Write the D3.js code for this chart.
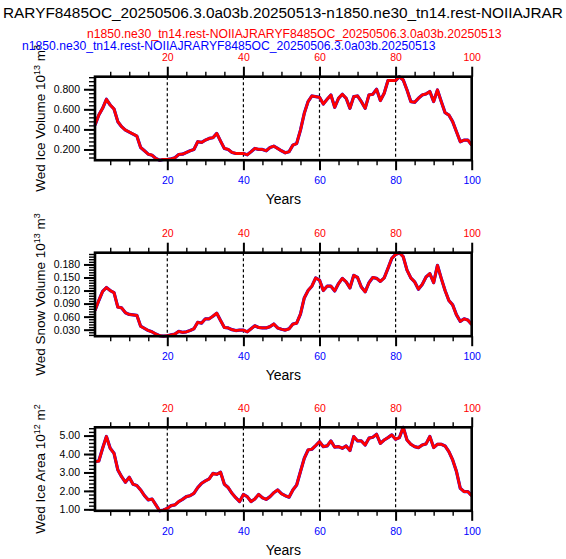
<!DOCTYPE html>
<html>
<head>
  <meta charset="utf-8">
  <title>Weddell ice timeseries</title>
  <script src="https://d3js.org/d3.v7.min.js"></script>
  <style>
    body { margin: 0; background: #fff; }
    svg { font-family: "Liberation Sans", Arial, Helvetica, sans-serif; }
    .axis path { display: none; }
    .axis line { stroke: #000; }
    .major line { stroke-width: 2; }
    .minor line { stroke-width: 1.4; }
    .axis text { font-size: 10.5px; }
    .grid { stroke: #000; stroke-width: 1.2; stroke-dasharray: 3,2.5; }
    .frame { fill: none; stroke: #000; stroke-width: 2.6; }
  </style>
</head>
<body>
<script>
// case names
var mainTitle = 'RARYF8485OC_20250506.3.0a03b.20250513-n1850.ne30_tn14.rest-NOIIAJRAR';
var redCase = 'n1850.ne30_tn14.rest-NOIIAJRARYF8485OC_20250506.3.0a03b.20250513';
var blueCase = 'n1850.ne30_tn14.rest-NOIIAJRARYF8485OC_20250506.3.0a03b.20250513';

var years = d3.range(1, 101);
var xTicks = [20, 40, 60, 80, 100];
var xMinor = [5, 10, 15, 25, 30, 35, 45, 50, 55, 65, 70, 75, 85, 90, 95];

// Wed ice volume (10^13 m^3)
var iceVolume = [
  0.443, 0.543, 0.610, 0.700, 0.643, 0.603, 0.477, 0.427, 0.393, 0.373,
  0.353, 0.333, 0.220, 0.187, 0.153, 0.143, 0.110, 0.093, 0.100, 0.100,
  0.107, 0.117, 0.150, 0.153, 0.170, 0.187, 0.200, 0.277, 0.270, 0.293,
  0.310, 0.317, 0.360, 0.283, 0.210, 0.200, 0.170, 0.160, 0.160, 0.160,
  0.147, 0.177, 0.210, 0.200, 0.200, 0.187, 0.220, 0.233, 0.210, 0.187,
  0.167, 0.177, 0.243, 0.260, 0.393, 0.560, 0.677, 0.733, 0.727, 0.720,
  0.653, 0.700, 0.743, 0.620, 0.710, 0.750, 0.710, 0.610, 0.727, 0.733,
  0.677, 0.610, 0.743, 0.750, 0.800, 0.687, 0.760, 0.887, 0.887, 0.887,
  0.925, 0.893, 0.793, 0.677, 0.670, 0.710, 0.743, 0.753, 0.777, 0.677,
  0.793, 0.677, 0.567, 0.543, 0.477, 0.377, 0.277, 0.293, 0.293, 0.243
];
var iceVolumeTicks = [0.2, 0.4, 0.6, 0.8];

// Wed snow volume (10^13 m^3)
var snowVolume = [
  0.074, 0.097, 0.118, 0.127, 0.120, 0.115, 0.082, 0.080, 0.069, 0.065,
  0.064, 0.063, 0.038, 0.033, 0.028, 0.025, 0.020, 0.016, 0.015, 0.016,
  0.018, 0.020, 0.026, 0.024, 0.025, 0.028, 0.032, 0.047, 0.045, 0.055,
  0.055, 0.061, 0.068, 0.051, 0.035, 0.034, 0.030, 0.028, 0.029, 0.029,
  0.025, 0.032, 0.039, 0.035, 0.034, 0.034, 0.037, 0.043, 0.034, 0.031,
  0.029, 0.032, 0.043, 0.045, 0.066, 0.103, 0.120, 0.130, 0.149, 0.144,
  0.120, 0.130, 0.130, 0.119, 0.136, 0.148, 0.140, 0.126, 0.155, 0.150,
  0.128, 0.117, 0.138, 0.150, 0.148, 0.141, 0.149, 0.171, 0.194, 0.203,
  0.207, 0.198, 0.167, 0.149, 0.140, 0.123, 0.134, 0.151, 0.159, 0.138,
  0.178, 0.148, 0.120, 0.097, 0.087, 0.064, 0.049, 0.055, 0.052, 0.042
];
var snowVolumeTicks = [0.03, 0.06, 0.09, 0.12, 0.15, 0.18];

// Wed ice area (10^12 m^2)
var iceArea = [
  3.59, 3.62, 4.31, 4.95, 4.31, 4.04, 3.14, 2.77, 2.47, 2.74,
  2.36, 2.29, 2.05, 1.74, 1.51, 1.56, 1.24, 0.92, 0.96, 1.05,
  1.20, 1.24, 1.42, 1.54, 1.69, 1.74, 1.87, 2.18, 2.41, 2.54,
  2.65, 2.95, 2.90, 3.01, 2.36, 2.18, 1.87, 1.63, 1.42, 1.81,
  1.69, 1.42, 1.56, 1.81, 1.63, 1.54, 1.69, 1.90, 2.05, 1.85,
  1.74, 1.66, 2.05, 2.32, 3.05, 3.77, 4.22, 4.26, 4.46, 4.67,
  4.40, 4.44, 4.71, 4.37, 4.40, 4.31, 4.44, 4.19, 4.95, 4.71,
  4.71, 4.49, 4.86, 4.91, 5.07, 4.58, 4.76, 4.89, 5.04, 4.80,
  4.89, 5.45, 4.76, 4.53, 4.40, 4.35, 4.49, 4.55, 4.95, 4.35,
  4.53, 4.53, 4.44, 4.13, 3.68, 3.05, 2.14, 1.96, 1.96, 1.74
];
var iceAreaTicks = [1, 2, 3, 4, 5];

// both cases are the same run here, blue one is drawn under the red one
var panels = [
  { label: ['Wed Ice Volume 10', '13', ' m', '3'], red: iceVolume, blue: iceVolume, ticks: iceVolumeTicks, fmt: '.3f' },
  { label: ['Wed Snow Volume 10', '13', ' m', '3'], red: snowVolume, blue: snowVolume, ticks: snowVolumeTicks, fmt: '.3f' },
  { label: ['Wed Ice Area 10', '12', ' m', '2'], red: iceArea, blue: iceArea, ticks: iceAreaTicks, fmt: '.2f' }
];

var W = 566, H = 559;
var LEFT = 95, RIGHT = 471.7;
var TOPS = [76.7, 252.7, 427.3];
var PH = 83.5;

var svg = d3.select('body').append('svg')
  .attr('width', W)
  .attr('height', H);

// shrink/grow a text so it spans the given width
function fit(sel, width) {
  var len = sel.node().getComputedTextLength();
  var fs = parseFloat(sel.attr('font-size'));
  sel.attr('font-size', fs * width / len);
}

svg.append('text')
  .attr('x', 3).attr('y', 18.3)
  .attr('font-size', 16)
  .text(mainTitle)
  .call(fit, 560);

svg.append('text')
  .attr('x', 87).attr('y', 38.3)
  .attr('font-size', 12)
  .attr('fill', '#ff0000')
  .text(redCase)
  .call(fit, 415);

svg.append('text')
  .attr('x', 22).attr('y', 50)
  .attr('font-size', 12)
  .attr('fill', '#0000ff')
  .text(blueCase)
  .call(fit, 414);

var x = d3.scaleLinear().domain([1, 100]).range([LEFT, RIGHT]);

panels.forEach(function(p, i) {
  var top = TOPS[i];
  var g = svg.append('g').attr('transform', 'translate(0,' + top + ')');

  var ext = d3.extent(p.red.concat(p.blue));
  var y = d3.scaleLinear().domain(ext).range([PH, 0]);

  // dashed verticals at the inner major ticks
  g.selectAll('.grid')
    .data(xTicks.filter(function(d) { return d < 100; }))
    .enter().append('line')
    .attr('class', 'grid')
    .attr('x1', x).attr('x2', x)
    .attr('y1', 0).attr('y2', PH);

  var line = d3.line()
    .x(function(d, j) { return x(years[j]); })
    .y(function(d) { return y(d); });

  g.append('path').datum(p.blue)
    .attr('d', line)
    .attr('fill', 'none')
    .attr('stroke', '#0000ff')
    .attr('stroke-width', 3.2)
    .attr('stroke-linejoin', 'round');

  g.append('path').datum(p.red)
    .attr('d', line)
    .attr('fill', 'none')
    .attr('stroke', '#ff0000')
    .attr('stroke-width', 2.8)
    .attr('stroke-linejoin', 'round');

  // minor ticks
  var step = p.ticks[1] - p.ticks[0];
  var mstep = step / 5;
  var yMinor = d3.range(Math.ceil(ext[0] / mstep - 1e-6), Math.floor(ext[1] / mstep + 1e-6) + 1)
    .map(function(k) { return k * mstep; });

  g.append('g').attr('class', 'axis minor')
    .attr('transform', 'translate(' + LEFT + ',0)')
    .call(d3.axisLeft(y).tickValues(yMinor).tickSize(6).tickFormat(''));
  g.append('g').attr('class', 'axis minor')
    .call(d3.axisTop(x).tickValues(xMinor).tickSize(5).tickFormat(''));
  g.append('g').attr('class', 'axis minor')
    .attr('transform', 'translate(0,' + PH + ')')
    .call(d3.axisBottom(x).tickValues(xMinor).tickSize(5).tickFormat(''));

  // major ticks
  g.append('g').attr('class', 'axis major')
    .attr('transform', 'translate(' + LEFT + ',0)')
    .call(d3.axisLeft(y).tickValues(p.ticks).tickSize(11).tickPadding(4).tickFormat(d3.format(p.fmt)));

  g.append('g').attr('class', 'axis major')
    .call(d3.axisTop(x).tickValues(xTicks).tickSize(10).tickPadding(5.6))
    .selectAll('text').attr('fill', '#ff0000');

  g.append('g').attr('class', 'axis major')
    .attr('transform', 'translate(0,' + PH + ')')
    .call(d3.axisBottom(x).tickValues(xTicks).tickSize(10).tickPadding(6.8))
    .selectAll('text').attr('fill', '#0000ff');

  g.append('rect').attr('class', 'frame')
    .attr('x', LEFT).attr('y', 0)
    .attr('width', RIGHT - LEFT).attr('height', PH);

  g.append('text')
    .attr('x', (LEFT + RIGHT) / 2)
    .attr('y', PH + 44)
    .attr('text-anchor', 'middle')
    .attr('font-size', 14)
    .text('Years');

  var lab = g.append('text')
    .attr('transform', 'translate(45,' + (PH / 2) + ') rotate(-90)')
    .attr('text-anchor', 'middle')
    .attr('font-size', 13.5);
  lab.append('tspan').text(p.label[0]);
  lab.append('tspan').attr('dy', -5.5).attr('font-size', 9).text(p.label[1]);
  lab.append('tspan').attr('dy', 5.5).text(p.label[2]);
  lab.append('tspan').attr('dy', -5.5).attr('font-size', 9).text(p.label[3]);
});
</script>
</body>
</html>
